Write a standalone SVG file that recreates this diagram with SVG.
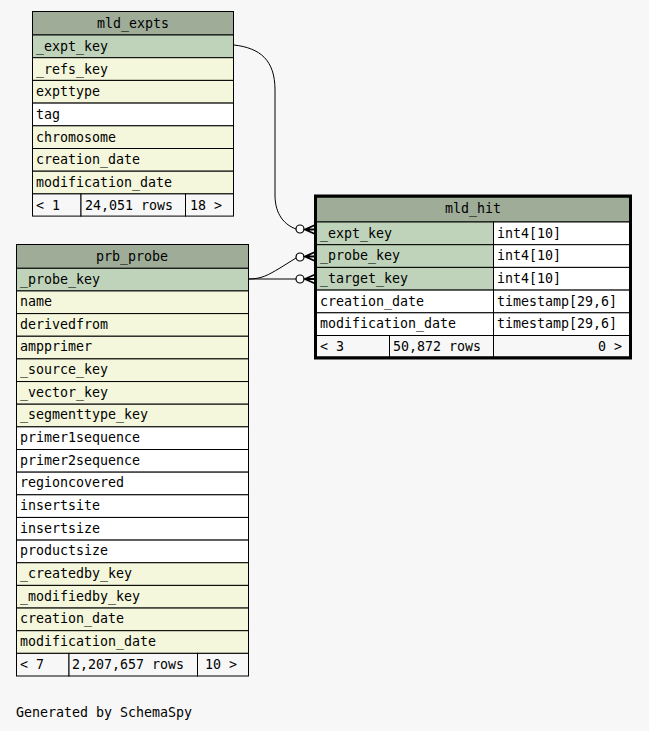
<svg xmlns="http://www.w3.org/2000/svg" width="649" height="731" viewBox="0 0 649 731">
<style>
text{font-family:"DejaVu Sans Mono","Liberation Mono",monospace;font-size:13.3px;fill:#000}
.h{fill:#9eac98;stroke:#000;stroke-width:1}
.k{fill:#bfd3ba;stroke:#000;stroke-width:1}
.y{fill:#f4f7dc;stroke:#000;stroke-width:1}
.w{fill:#ffffff;stroke:#000;stroke-width:1}
.f{fill:#f7f7f7;stroke:#000;stroke-width:1}
.c{text-anchor:middle}
.r{text-anchor:end}
.ln{fill:none;stroke:#000;stroke-width:1}
.o{fill:#fff;stroke:#000;stroke-width:1.2}
.crow{fill:none;stroke:#000;stroke-width:1.8}
</style>
<rect width="649" height="731" fill="#f7f7f7"/>

<g id="connectors">
<path class="ln" d="M234,45 C260,48 275,60 275,90 L275,195 C275,215 285,225 296,229"/>
<circle class="o" cx="300" cy="229" r="4"/>
<path class="crow" d="M315,225 L305,229.5 L315,234 M305,229.5 L315,229.5"/>
<path class="ln" d="M248,279 C262,279 268,275 280,268 L296,258"/>
<circle class="o" cx="300" cy="257" r="4"/>
<path class="crow" d="M315,252 L305,256.5 L315,261 M305,256.5 L315,256.5"/>
<path class="ln" d="M248,279 L296,279"/>
<circle class="o" cx="300" cy="279" r="4"/>
<path class="crow" d="M315,274.5 L305,279 L315,283.5 M305,279 L315,279"/>
</g>

<g id="mld_expts">
<rect class="h" x="32.5" y="11.5" width="201" height="23.5"/>
<text class="c" x="133" y="28">mld_expts</text>
<rect class="k" x="32.5" y="35" width="201" height="22.7"/>
<text x="36" y="51">_expt_key</text>
<rect class="y" x="32.5" y="57.7" width="201" height="22.7"/>
<text x="36" y="74">_refs_key</text>
<rect class="y" x="32.5" y="80.4" width="201" height="22.7"/>
<text x="36" y="96">expttype</text>
<rect class="w" x="32.5" y="103.1" width="201" height="22.7"/>
<text x="36" y="119">tag</text>
<rect class="y" x="32.5" y="125.8" width="201" height="22.7"/>
<text x="36" y="142">chromosome</text>
<rect class="y" x="32.5" y="148.5" width="201" height="22.7"/>
<text x="36" y="164">creation_date</text>
<rect class="y" x="32.5" y="171.2" width="201" height="22.7"/>
<text x="36" y="187">modification_date</text>
<rect class="f" x="32.5" y="193.9" width="48.5" height="22.2"/>
<rect class="f" x="81" y="193.9" width="104.5" height="22.2"/>
<rect class="f" x="185.5" y="193.9" width="48" height="22.2"/>
<text x="36" y="210">&lt; 1</text>
<text x="85" y="210">24,051 rows</text>
<text x="190" y="210">18 &gt;</text>
</g>

<g id="mld_hit">
<rect class="h" x="316.5" y="197" width="313" height="25"/>
<text class="c" x="473" y="213">mld_hit</text>
<rect class="k" x="316.5" y="222" width="177" height="22.7"/>
<rect class="w" x="493.5" y="222" width="136" height="22.7"/>
<text x="320" y="238">_expt_key</text>
<text x="497" y="238">int4[10]</text>
<rect class="k" x="316.5" y="244.7" width="177" height="22.7"/>
<rect class="w" x="493.5" y="244.7" width="136" height="22.7"/>
<text x="320" y="260">_probe_key</text>
<text x="497" y="260">int4[10]</text>
<rect class="k" x="316.5" y="267.4" width="177" height="22.7"/>
<rect class="w" x="493.5" y="267.4" width="136" height="22.7"/>
<text x="320" y="283">_target_key</text>
<text x="497" y="283">int4[10]</text>
<rect class="w" x="316.5" y="290.1" width="177" height="22.7"/>
<rect class="w" x="493.5" y="290.1" width="136" height="22.7"/>
<text x="320" y="306">creation_date</text>
<text x="497" y="306">timestamp[29,6]</text>
<rect class="w" x="316.5" y="312.8" width="177" height="22.7"/>
<rect class="w" x="493.5" y="312.8" width="136" height="22.7"/>
<text x="320" y="328">modification_date</text>
<text x="497" y="328">timestamp[29,6]</text>
<rect class="f" x="316.5" y="335.5" width="73" height="21.5"/>
<rect class="f" x="389.5" y="335.5" width="104" height="21.5"/>
<rect class="f" x="493.5" y="335.5" width="136" height="21.5"/>
<text x="320" y="351">&lt; 3</text>
<text x="393" y="351">50,872 rows</text>
<text class="r" x="622" y="351">0 &gt;</text>
<rect x="315.5" y="196" width="315" height="162" fill="none" stroke="#000" stroke-width="3"/>
</g>

<g id="prb_probe">
<rect class="h" x="16.5" y="244.5" width="232" height="23.8"/>
<text class="c" x="132" y="261">prb_probe</text>
<rect class="k" x="16.5" y="268.3" width="232" height="22.65"/>
<text x="20" y="284">_probe_key</text>
<rect class="y" x="16.5" y="290.95" width="232" height="22.65"/>
<text x="20" y="306">name</text>
<rect class="y" x="16.5" y="313.6" width="232" height="22.65"/>
<text x="20" y="329">derivedfrom</text>
<rect class="y" x="16.5" y="336.25" width="232" height="22.65"/>
<text x="20" y="351">ampprimer</text>
<rect class="y" x="16.5" y="358.9" width="232" height="22.65"/>
<text x="20" y="374">_source_key</text>
<rect class="y" x="16.5" y="381.55" width="232" height="22.65"/>
<text x="20" y="397">_vector_key</text>
<rect class="y" x="16.5" y="404.2" width="232" height="22.65"/>
<text x="20" y="419">_segmenttype_key</text>
<rect class="w" x="16.5" y="426.85" width="232" height="22.65"/>
<text x="20" y="442">primer1sequence</text>
<rect class="w" x="16.5" y="449.5" width="232" height="22.65"/>
<text x="20" y="465">primer2sequence</text>
<rect class="w" x="16.5" y="472.15" width="232" height="22.65"/>
<text x="20" y="487">regioncovered</text>
<rect class="w" x="16.5" y="494.8" width="232" height="22.65"/>
<text x="20" y="510">insertsite</text>
<rect class="w" x="16.5" y="517.45" width="232" height="22.65"/>
<text x="20" y="533">insertsize</text>
<rect class="w" x="16.5" y="540.1" width="232" height="22.65"/>
<text x="20" y="555">productsize</text>
<rect class="y" x="16.5" y="562.75" width="232" height="22.65"/>
<text x="20" y="578">_createdby_key</text>
<rect class="y" x="16.5" y="585.4" width="232" height="22.65"/>
<text x="20" y="601">_modifiedby_key</text>
<rect class="y" x="16.5" y="608.05" width="232" height="22.65"/>
<text x="20" y="623">creation_date</text>
<rect class="y" x="16.5" y="630.7" width="232" height="22.65"/>
<text x="20" y="646">modification_date</text>
<rect class="f" x="16.5" y="653.35" width="52.5" height="22.65"/>
<rect class="f" x="69" y="653.35" width="128.5" height="22.65"/>
<rect class="f" x="197.5" y="653.35" width="51" height="22.65"/>
<text x="20" y="669">&lt; 7</text>
<text x="72" y="669">2,207,657 rows</text>
<text x="205" y="669">10 &gt;</text>
</g>

<text x="16" y="717">Generated by SchemaSpy</text>
</svg>
